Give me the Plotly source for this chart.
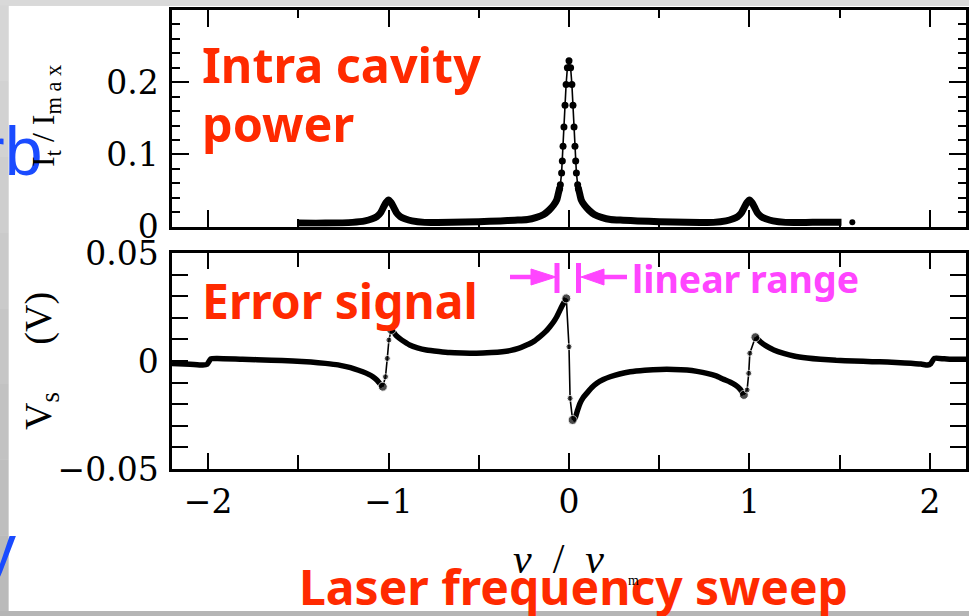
import plotly.graph_objects as go

W, H = 969, 616

# ---------------- data ----------------
freq_ticks = [-2, -1, 0, 1, 2]
freq_tick_text = ["\u22122", "\u22121", "0", "1", "2"]
freq_minor = [-1.5, -0.5, 0.5, 1.5]
power_ticks = [0, 0.1, 0.2]
power_tick_text = ["0", "0.1", "0.2"]
error_ticks = [-0.05, 0, 0.05]
error_tick_text = ["\u22120.05", "0", "0.05"]

# Intra cavity power (upper panel)
power_left_x = [-1.50, -1.35, -1.20, -1.13, -1.09, -1.065, -1.045, -1.03, -1.015, -1.0,
                -0.985, -0.97, -0.955, -0.935, -0.91, -0.87, -0.80, -0.65, -0.50, -0.38,
                -0.30, -0.23, -0.18, -0.14, -0.11, -0.085, -0.068, -0.058, -0.052]
power_left_y = [0.005, 0.005, 0.006, 0.008, 0.011, 0.014, 0.019, 0.026, 0.033, 0.037,
                0.033, 0.026, 0.019, 0.014, 0.011, 0.008, 0.006, 0.006, 0.007, 0.008,
                0.009, 0.010, 0.013, 0.017, 0.023, 0.030, 0.037, 0.047, 0.053]
power_peak_x = [-0.052, -0.048, -0.041, -0.037, -0.033, -0.028, -0.022, -0.016, -0.009, 0.0,
                0.009, 0.016, 0.022, 0.028, 0.033, 0.037, 0.041, 0.048, 0.052]
power_peak_y = [0.053, 0.058, 0.0745, 0.091, 0.1115, 0.138, 0.168, 0.197, 0.220, 0.2296,
                0.220, 0.197, 0.168, 0.138, 0.1115, 0.091, 0.0745, 0.058, 0.053]
power_right_x = [0.052, 0.058, 0.068, 0.085, 0.11, 0.14, 0.18, 0.23, 0.30, 0.38,
                 0.50, 0.65, 0.80, 0.87, 0.91, 0.935, 0.955, 0.97, 0.985, 1.0,
                 1.015, 1.03, 1.045, 1.065, 1.09, 1.13, 1.20, 1.35, 1.51]
power_right_y = [0.053, 0.047, 0.037, 0.030, 0.023, 0.017, 0.013, 0.010, 0.009, 0.008,
                 0.007, 0.006, 0.006, 0.008, 0.011, 0.014, 0.019, 0.026, 0.033, 0.037,
                 0.033, 0.026, 0.019, 0.014, 0.011, 0.008, 0.006, 0.006, 0.006]
power_stray_x = [1.57]
power_stray_y = [0.006]

# Error signal (lower panel): slowly varying parts
err_a_x = [-2.20, -2.10, -2.03, -2.005, -1.985, -1.95, -1.81, -1.65, -1.53, -1.43,
           -1.35, -1.28, -1.235, -1.19, -1.143, -1.11, -1.087, -1.065, -1.05, -1.032]
err_a_y = [-0.0011, -0.0015, -0.0019, -0.0015, 0.0010, 0.0012, 0.0008, 0.0004, 0.0, -0.0005,
           -0.0011, -0.0018, -0.0026, -0.0036, -0.0050, -0.0062, -0.0073, -0.0088, -0.0103, -0.0119]
err_b_x = [-0.985, -0.976, -0.96, -0.939, -0.91, -0.883, -0.84, -0.79, -0.72, -0.661,
           -0.59, -0.513, -0.43, -0.37, -0.328, -0.28, -0.235, -0.195, -0.161, -0.13,
           -0.106, -0.085, -0.068, -0.052, -0.041, -0.03, -0.015]
err_b_y = [0.0144, 0.0138, 0.0120, 0.0105, 0.0088, 0.0074, 0.0061, 0.0051, 0.0044, 0.0039,
           0.0037, 0.0036, 0.0039, 0.0043, 0.0048, 0.0058, 0.0074, 0.0091, 0.0113, 0.0136,
           0.0159, 0.0182, 0.0205, 0.0232, 0.0251, 0.0268, 0.0290]
err_c_x = [0.02, 0.033, 0.046, 0.061, 0.078, 0.098, 0.125, 0.154, 0.19, 0.228,
           0.28, 0.339, 0.42, 0.506, 0.58, 0.654, 0.71, 0.765, 0.815, 0.857,
           0.892, 0.922, 0.948, 0.969]
err_c_y = [-0.0273, -0.0265, -0.0232, -0.0196, -0.0170, -0.0150, -0.0124, -0.0103, -0.0086, -0.0073,
           -0.0060, -0.0050, -0.0043, -0.0039, -0.0039, -0.0042, -0.0048, -0.0057, -0.0069, -0.0085,
           -0.0097, -0.0111, -0.0130, -0.0157]
err_d_x = [1.033, 1.045, 1.061, 1.09, 1.135, 1.19, 1.246, 1.32, 1.394, 1.48,
           1.58, 1.68, 1.765, 1.86, 1.95, 1.987, 2.005, 2.024, 2.08, 2.135, 2.20]
err_d_y = [0.0110, 0.0101, 0.0089, 0.0071, 0.0051, 0.0035, 0.0023, 0.0014, 0.0008, 0.0003,
           0.0, -0.0003, -0.0005, -0.0009, -0.0014, -0.0019, -0.0012, 0.0012, 0.0010, 0.0008, 0.0008]
# Error signal: fast transitions through the resonances (individual samples)
jump1_x = [-1.032, -1.017, -1.007, -0.998, -0.985]
jump1_y = [-0.0119, -0.0073, 0.0012, 0.0097, 0.0144]
jump2_x = [-0.015, 0.0, 0.006, 0.02]
jump2_y = [0.0290, 0.0066, -0.0173, -0.0273]
jump3_x = [0.969, 0.987, 0.996, 1.002, 1.033]
jump3_y = [-0.0157, -0.0134, -0.0057, 0.0036, 0.0110]

# ---------------- helpers ----------------
def px(x):
    return x / W


def py(y):
    return 1 - y / H


METRICS = {
    "Noto Sans": (1.069, 0.293),
    "Liberation Sans": (0.905, 0.212),
    "Liberation Serif": (0.891, 0.216),
    "DejaVu Serif": (0.928, 0.236),
}


def text_at(text, x, baseline, size, color, family, anchor="left", weight=400):
    asc, desc = METRICS[family]
    yc = baseline - (asc - desc) / 2 * size
    return dict(text=text, x=px(x), y=py(yc), xref="paper", yref="paper",
                xanchor=anchor, yanchor="middle", showarrow=False,
                borderpad=0, borderwidth=0,
                font=dict(size=size, color=color, family=family, weight=weight))


def join(*segs):
    xs, ys = [], []
    for sx, sy in segs:
        xs += list(sx) + [None]
        ys += list(sy) + [None]
    return xs, ys


BLACK = "#000000"
RED = "#ff2a00"
MAGENTA = "#ff45ff"
BLUE = "#1a4bff"

fig = go.Figure()

# upper panel
tx, ty = join((power_left_x, power_left_y), (power_right_x, power_right_y))
fig.add_trace(go.Scatter(x=tx, y=ty, mode="lines",
                         line=dict(color=BLACK, width=7, shape="spline", smoothing=0.6),
                         xaxis="x", yaxis="y", hoverinfo="skip"))
fig.add_trace(go.Scatter(x=power_peak_x, y=power_peak_y, mode="lines+markers",
                         line=dict(color=BLACK, width=1.6),
                         marker=dict(color=BLACK, size=7),
                         xaxis="x", yaxis="y", hoverinfo="skip"))
fig.add_trace(go.Scatter(x=power_stray_x, y=power_stray_y, mode="markers",
                         marker=dict(color=BLACK, size=6),
                         xaxis="x", yaxis="y", hoverinfo="skip"))

# lower panel
ex, ey = join((err_a_x, err_a_y), (err_b_x, err_b_y), (err_c_x, err_c_y), (err_d_x, err_d_y))
fig.add_trace(go.Scatter(x=ex, y=ey, mode="lines",
                         line=dict(color=BLACK, width=5.5, shape="spline", smoothing=0.5),
                         xaxis="x2", yaxis="y2", hoverinfo="skip"))
for jx, jy in [(jump1_x, jump1_y), (jump2_x, jump2_y), (jump3_x, jump3_y)]:
    sizes = [9] + [6] * (len(jx) - 2) + [9]
    fig.add_trace(go.Scatter(x=jx, y=jy, mode="lines+markers",
                             line=dict(color=BLACK, width=1.6),
                             marker=dict(color=BLACK, size=sizes),
                             xaxis="x2", yaxis="y2", hoverinfo="skip"))

x_dom = [px(172), px(966)]
tickfont = dict(family="DejaVu Serif", size=33, color=BLACK)
common_x = dict(domain=x_dom, range=[-2.2, 2.2], showgrid=False, zeroline=False,
                automargin=False,
                showline=True, linecolor=BLACK, linewidth=2.5, mirror="allticks",
                ticks="inside", tickcolor=BLACK, tickwidth=2,
                tickmode="array", tickvals=freq_ticks, ticktext=freq_tick_text,
                tickfont=tickfont)
common_y = dict(showgrid=False, zeroline=False, showline=True, linecolor=BLACK,
                automargin=False,
                linewidth=2.5, mirror="allticks", ticks="inside", tickcolor=BLACK,
                tickwidth=2, tickmode="array", tickfont=tickfont, ticklabelstandoff=4)

layout = dict(
    template="none",
    width=W, height=H, autosize=False,
    margin=dict(l=0, r=0, t=0, b=0, pad=0),
    paper_bgcolor="#d4d4d4", plot_bgcolor="rgba(0,0,0,0)",
    showlegend=False,
    xaxis=dict(common_x, anchor="y", showticklabels=False, ticklen=17,
               minor=dict(tickvals=freq_minor, ticklen=8, tickwidth=2, tickcolor=BLACK, ticks="inside")),
    yaxis=dict(common_y, anchor="x", domain=[py(226.7), py(10)], range=[0, 0.3],
               tickvals=power_ticks, ticktext=power_tick_text, ticklen=17,
               minor=dict(dtick=0.02, tick0=0, ticklen=8, tickwidth=2, tickcolor=BLACK, ticks="inside")),
    xaxis2=dict(common_x, anchor="y2", ticklen=16, ticklabelstandoff=2,
                minor=dict(tickvals=freq_minor, ticklen=14, tickwidth=2, tickcolor=BLACK, ticks="inside")),
    yaxis2=dict(common_y, anchor="x2", domain=[py(469), py(253)], range=[-0.05, 0.05],
                tickvals=error_ticks, ticktext=error_tick_text, ticklen=16,
                minor=dict(dtick=0.01, tick0=0, ticklen=16, tickwidth=2, tickcolor=BLACK, ticks="inside")),
)

shapes = []
# white slide picture area and grey frame
shapes.append(dict(type="rect", xref="paper", yref="paper", layer="below",
                   x0=px(8.5), x1=1, y0=py(611), y1=py(5.7),
                   fillcolor="#ffffff", line=dict(width=0)))
shapes.append(dict(type="rect", xref="paper", yref="paper", layer="below",
                   x0=0, x1=1, y0=0, y1=py(611), fillcolor="#b5b5b5", line=dict(width=0)))
shapes.append(dict(type="rect", xref="paper", yref="paper", layer="below",
                   x0=0, x1=1, y0=py(5.7), y1=1, fillcolor="#d9d9d9", line=dict(width=0)))
nb = 8
for i in range(nb):
    g = int(0xd6 - (0xd6 - 0xba) * i / (nb - 1))
    shapes.append(dict(type="rect", xref="paper", yref="paper", layer="below",
                       x0=0, x1=px(8.5), y0=py(5.7 + (611 - 5.7) * (i + 1) / nb),
                       y1=py(5.7 + (611 - 5.7) * i / nb),
                       fillcolor=f"rgb({g},{g},{g})", line=dict(width=0)))

# "linear range" markers
def seg(x0, y0, x1, y1, w):
    return dict(type="line", xref="paper", yref="paper", x0=px(x0), y0=py(y0),
                x1=px(x1), y1=py(y1), line=dict(color=MAGENTA, width=w), layer="above")

def tri(tip_x, base_x, yc, half):
    path = (f"M {px(tip_x)},{py(yc)} L {px(base_x)},{py(yc - half)} "
            f"L {px(base_x)},{py(yc + half)} Z")
    return dict(type="path", xref="paper", yref="paper", path=path,
                fillcolor=MAGENTA, line=dict(color=MAGENTA, width=1), layer="above")

shapes += [
    seg(510, 277, 534, 277, 4.5), tri(556, 531, 277, 8), seg(557, 263, 557, 293, 5),
    seg(578.5, 263, 578.5, 293, 5), tri(581, 604, 277, 8), seg(601, 277, 627, 277, 4.5),
]
layout["shapes"] = shapes

NB = "\u00a0"
ann = []
ann.append(text_at("rb", 41.5, 175, 68, BLUE, "Liberation Sans", anchor="right"))
ann.append(text_at("y", -18, 572, 68, BLUE, "Liberation Sans"))
ann.append(text_at("Intra cavity", 202, 83, 48.5, RED, "Noto Sans", weight=700))
ann.append(text_at("power", 202, 142, 48.5, RED, "Noto Sans", weight=700))
ann.append(text_at("Error signal", 202, 319, 48, RED, "Noto Sans", weight=700))
ann.append(text_at("linear range", 632, 293, 37.5, MAGENTA, "Noto Sans", weight=700))
ann.append(text_at("Laser frequency sweep", 299, 605, 48, RED, "Noto Sans", weight=700))
# axis titles
ann.append(dict(text=f"<i>\u03bd</i>{NB}{NB}/{NB}{NB}<i>\u03bd</i>", x=px(511), y=py(559),
                xref="paper", yref="paper", xanchor="left", yanchor="middle", showarrow=False,
                font=dict(family="Liberation Serif", size=42, color=BLACK)))
ann.append(text_at("m", 628, 585, 14, BLACK, "Liberation Serif"))
ann.append(dict(text=f"I<sub>t</sub>{NB}/{NB}I<sub>m{NB}a{NB}x</sub>", x=px(45), y=py(116),
                textangle=-90,
                xref="paper", yref="paper", xanchor="center", yanchor="middle", showarrow=False,
                font=dict(family="Liberation Serif", size=32, color=BLACK)))
ann.append(dict(text=f"V<sub>s</sub>{NB*5}(V)", x=px(41), y=py(361), textangle=-90,
                xref="paper", yref="paper", xanchor="center", yanchor="middle", showarrow=False,
                font=dict(family="Liberation Serif", size=38, color=BLACK)))
layout["annotations"] = ann

fig.update_layout(layout)
fig.write_html("out.html", config={"displayModeBar": False},
               post_script="document.body.style.margin='0';document.body.style.overflow='hidden';")
